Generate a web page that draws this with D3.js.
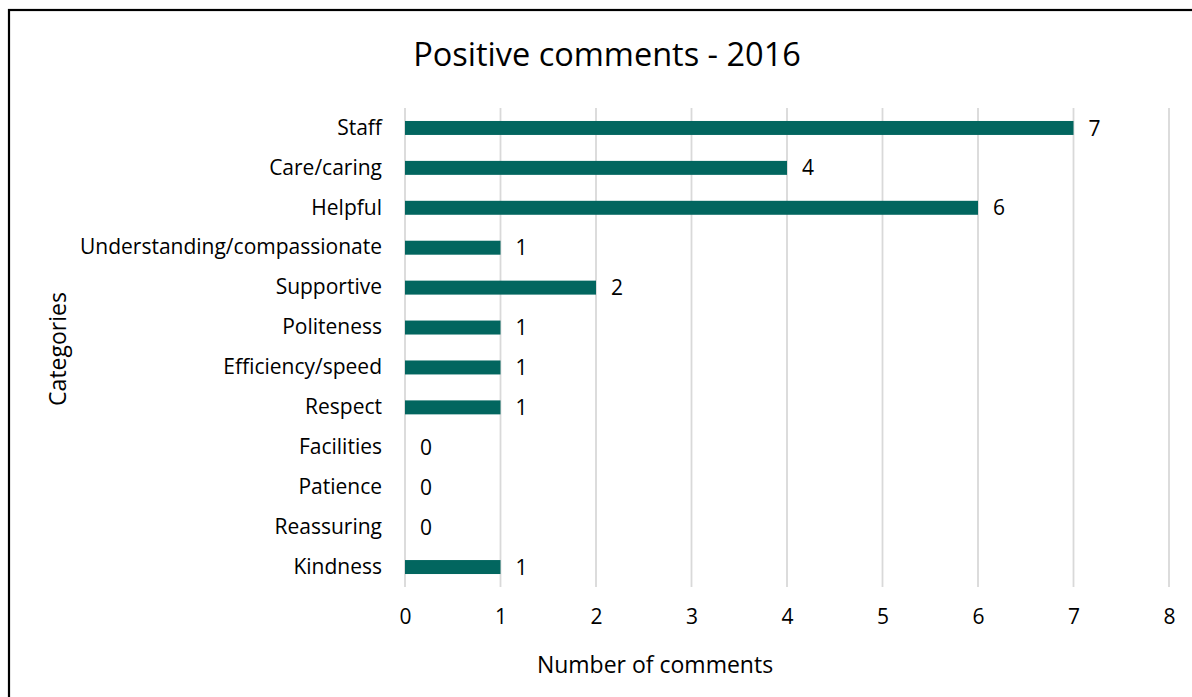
<!DOCTYPE html>
<html>
<head>
<meta charset="utf-8">
<script src="https://cdn.jsdelivr.net/npm/d3@7"></script>
<style>
  html, body { margin: 0; padding: 0; background: #fff; }
  svg { display: block; }
  text { font-family: "Open Sans", "Noto Sans", sans-serif; fill: #000; }
</style>
</head>
<body>
<svg id="chart" width="1192" height="697"></svg>
<script>
// Positive comments by category, 2016
const categories = [
  "Staff", "Care/caring", "Helpful", "Understanding/compassionate",
  "Supportive", "Politeness", "Efficiency/speed", "Respect",
  "Facilities", "Patience", "Reassuring", "Kindness"
];
const counts = [7, 4, 6, 1, 2, 1, 1, 1, 0, 0, 0, 1];
const xTicks = [0, 1, 2, 3, 4, 5, 6, 7, 8];

const titleText = "Positive comments - 2016";
const xTitle = "Number of comments";
const yTitle = "Categories";

const W = 1192, H = 697;
const plot = { left: 405, right: 1169, top: 108, bottom: 587 };
const labelSize = 21;

const svg = d3.select("#chart");

// outer frame of the chart object
svg.append("rect")
  .attr("x", 9).attr("y", 10)
  .attr("width", W + 20).attr("height", H + 20)
  .attr("fill", "#fff")
  .attr("stroke", "#000")
  .attr("stroke-width", 2.2);

const x = d3.scaleLinear().domain([0, 8]).range([plot.left, plot.right]);
const y = d3.scaleBand().domain(categories).range([plot.top, plot.bottom]).paddingInner(0.65).paddingOuter(0.325);

// vertical gridlines
svg.append("g")
  .selectAll("line")
  .data(xTicks)
  .join("line")
  .attr("x1", d => x(d)).attr("x2", d => x(d))
  .attr("y1", plot.top).attr("y2", plot.bottom)
  .attr("stroke", "#d9d9d9")
  .attr("stroke-width", 1.8);

// bars
svg.append("g")
  .selectAll("rect")
  .data(categories)
  .join("rect")
  .attr("x", x(0))
  .attr("y", d => y(d))
  .attr("width", (d, i) => x(counts[i]) - x(0))
  .attr("height", y.bandwidth())
  .attr("fill", "#02665f");

// value labels
svg.append("g")
  .selectAll("text")
  .data(categories)
  .join("text")
  .attr("x", (d, i) => x(counts[i]) + 15)
  .attr("y", d => y(d) + y.bandwidth() / 2)
  .attr("dy", "0.36em")
  .attr("font-size", labelSize)
  .text((d, i) => counts[i]);

// category axis labels
const yAxis = d3.axisLeft(y).tickSize(0).tickPadding(23);
const gy = svg.append("g").attr("transform", `translate(${plot.left},0)`).call(yAxis);
gy.select(".domain").remove();
gy.selectAll("text")
  .attr("font-size", labelSize)
  .attr("fill", "#000")
  .style("font-family", '"Open Sans", sans-serif');

// value axis tick labels
const xAxis = d3.axisBottom(x).tickValues(xTicks).tickSize(0).tickPadding(22).tickFormat(d3.format("d"));
const gx = svg.append("g").attr("transform", `translate(0,${plot.bottom})`).call(xAxis);
gx.select(".domain").remove();
gx.selectAll("text")
  .attr("font-size", labelSize)
  .attr("fill", "#000")
  .style("font-family", '"Open Sans", sans-serif');

// chart title
svg.append("text")
  .attr("x", 607).attr("y", 66)
  .attr("text-anchor", "middle")
  .attr("font-size", 32.5)
  .text(titleText);

// axis titles
svg.append("text")
  .attr("x", 655).attr("y", 673)
  .attr("text-anchor", "middle")
  .attr("font-size", 23)
  .text(xTitle);

svg.append("text")
  .attr("transform", "translate(66,349) rotate(-90)")
  .attr("text-anchor", "middle")
  .attr("font-size", 23)
  .text(yTitle);
</script>
</body>
</html>
